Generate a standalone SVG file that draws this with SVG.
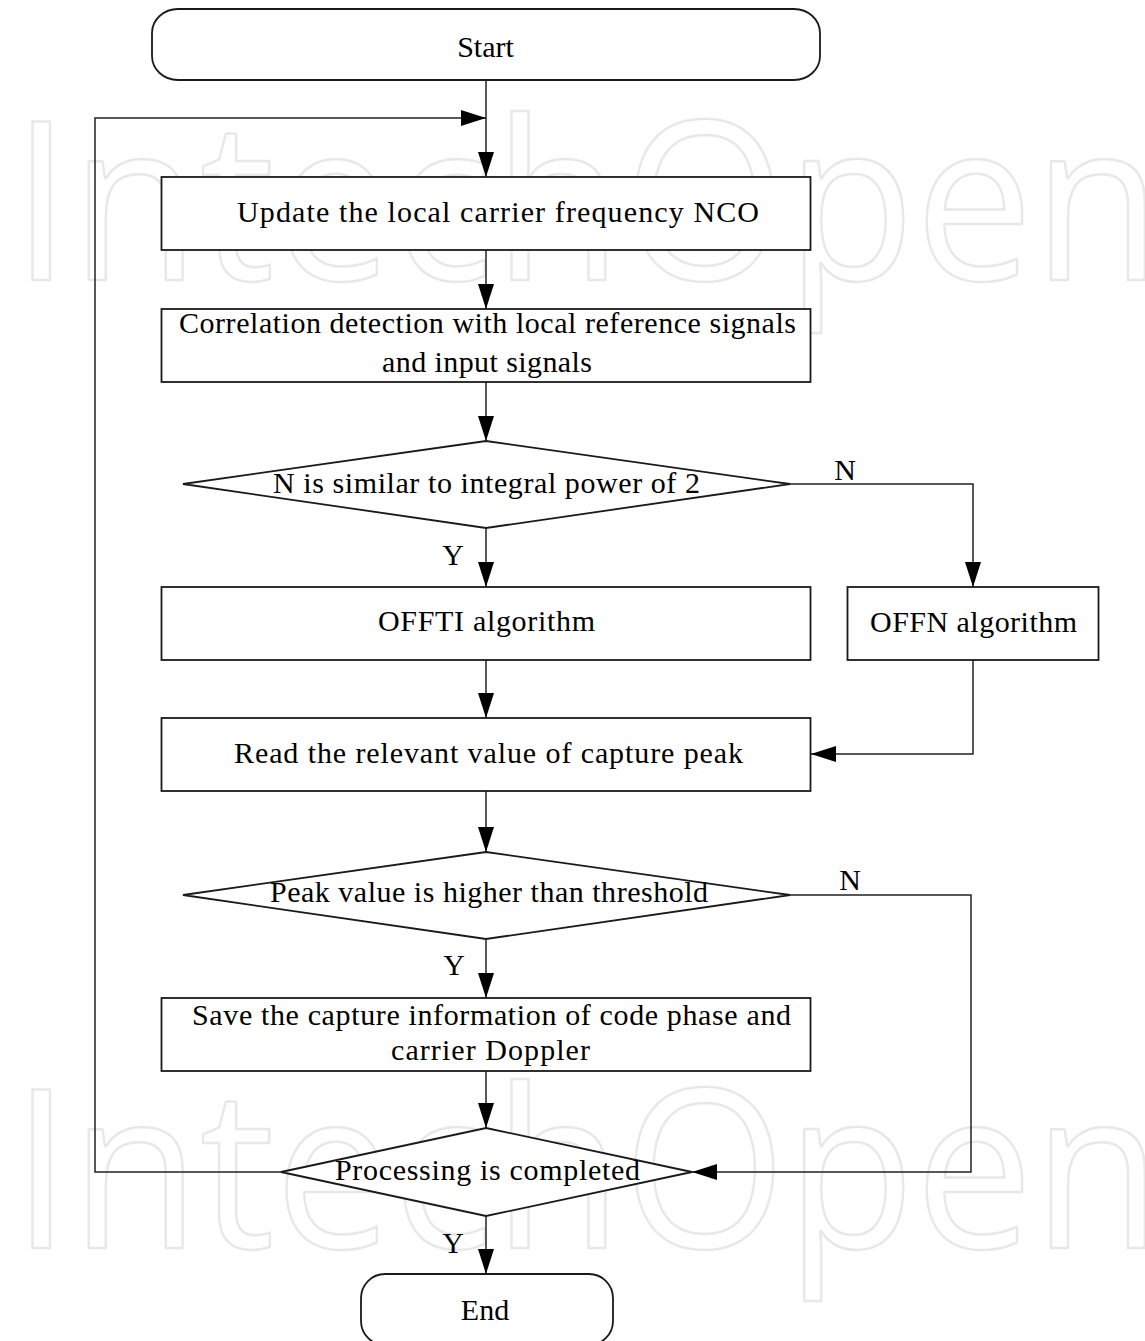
<svg xmlns="http://www.w3.org/2000/svg" width="1145" height="1341" viewBox="0 0 1145 1341">
  <defs>
    <marker id="arrow" markerUnits="userSpaceOnUse" markerWidth="26" markerHeight="16" refX="25" refY="8" orient="auto">
      <path d="M0,0 L25,8 L0,16 Z" fill="#000"/>
    </marker>
  </defs>
  <style>
    .wm { font-family: "Open Sans", "Noto Sans", sans-serif; font-size: 222px; fill: #fff; stroke: #e8e8e8; stroke-width: 2.5; stroke-linejoin: round; }
    .shape { fill: #fff; stroke: #1a1a1a; stroke-width: 1.8; }
    .conn { fill: none; stroke: #222; stroke-width: 1.5; }
    .lbl { font-family: "Liberation Serif", "Times New Roman", serif; font-size: 30px; fill: #000; text-anchor: middle; }
  </style>

  <rect width="1145" height="1341" fill="#fff"/>

  <!-- background mark -->
  <g id="watermark">
    <text class="wm" x="12" y="280" textLength="1150" lengthAdjust="spacingAndGlyphs">IntechOpen</text>
    <text class="wm" x="12" y="1248" textLength="1150" lengthAdjust="spacingAndGlyphs">IntechOpen</text>
  </g>

  <!-- connectors -->
  <g id="connectors">
    <path class="conn" d="M486,80 V177" marker-end="url(#arrow)"/>
    <path class="conn" d="M281,1172 H95 V118 H486" marker-end="url(#arrow)"/>
    <path class="conn" d="M486,250 V309" marker-end="url(#arrow)"/>
    <path class="conn" d="M486,382 V441" marker-end="url(#arrow)"/>
    <path class="conn" d="M486,528 V587" marker-end="url(#arrow)"/>
    <path class="conn" d="M790,484 H973 V587" marker-end="url(#arrow)"/>
    <path class="conn" d="M486,660 V718" marker-end="url(#arrow)"/>
    <path class="conn" d="M973,660 V754 H811" marker-end="url(#arrow)"/>
    <path class="conn" d="M486,791 V852" marker-end="url(#arrow)"/>
    <path class="conn" d="M486,939 V998" marker-end="url(#arrow)"/>
    <path class="conn" d="M790,895 H971 V1172 H692" marker-end="url(#arrow)"/>
    <path class="conn" d="M486,1071 V1128" marker-end="url(#arrow)"/>
    <path class="conn" d="M486,1216 V1274" marker-end="url(#arrow)"/>
    <text class="lbl" x="845" y="480">N</text>
    <text class="lbl" x="453" y="565">Y</text>
    <text class="lbl" x="850" y="890">N</text>
    <text class="lbl" x="454" y="975">Y</text>
    <text class="lbl" x="453" y="1253">Y</text>
  </g>

  <g id="start">
    <rect class="shape" x="152" y="9" width="668" height="71" rx="26" ry="24"/>
    <text class="lbl" x="485.5" y="57">Start</text>
  </g>

  <g id="update-nco">
    <rect class="shape" x="161.5" y="177" width="649" height="73"/>
    <text class="lbl" x="498" y="222" textLength="522" lengthAdjust="spacing">Update the local carrier frequency NCO</text>
  </g>

  <g id="correlation">
    <rect class="shape" x="161.5" y="309" width="649" height="73"/>
    <text class="lbl" x="487.5" y="333" textLength="617" lengthAdjust="spacing">Correlation detection with local reference signals</text>
    <text class="lbl" x="487" y="372" textLength="210" lengthAdjust="spacing">and input signals</text>
  </g>

  <g id="check-power">
    <polygon class="shape" points="486,441 790,484 486,528 183,484"/>
    <text class="lbl" x="486.5" y="493" textLength="427" lengthAdjust="spacing">N is similar to integral power of 2</text>
  </g>

  <g id="offti">
    <rect class="shape" x="161.5" y="587" width="649" height="73"/>
    <text class="lbl" x="486.5" y="631" textLength="217" lengthAdjust="spacing">OFFTI algorithm</text>
  </g>

  <g id="offn">
    <rect class="shape" x="847.5" y="587" width="251" height="73"/>
    <text class="lbl" x="973.5" y="632" textLength="207" lengthAdjust="spacing">OFFN algorithm</text>
  </g>

  <g id="read-peak">
    <rect class="shape" x="161.5" y="718" width="649" height="73"/>
    <text class="lbl" x="488.5" y="763" textLength="509" lengthAdjust="spacing">Read the relevant value of capture peak</text>
  </g>

  <g id="check-threshold">
    <polygon class="shape" points="486,852 790,895 486,939 183,895"/>
    <text class="lbl" x="489" y="902" textLength="438" lengthAdjust="spacing">Peak value is higher than threshold</text>
  </g>

  <g id="save-info">
    <rect class="shape" x="161.5" y="998" width="649" height="73"/>
    <text class="lbl" x="491.5" y="1025" textLength="599" lengthAdjust="spacing">Save the capture information of code phase and</text>
    <text class="lbl" x="490.5" y="1060" textLength="199" lengthAdjust="spacing">carrier Doppler</text>
  </g>

  <g id="check-done">
    <polygon class="shape" points="486,1128 692,1172 486,1216 281,1172"/>
    <text class="lbl" x="487.5" y="1180" textLength="305" lengthAdjust="spacing">Processing is completed</text>
  </g>

  <g id="end">
    <rect class="shape" x="361" y="1274" width="252" height="71" rx="24" ry="24"/>
    <text class="lbl" x="485" y="1320">End</text>
  </g>
</svg>
